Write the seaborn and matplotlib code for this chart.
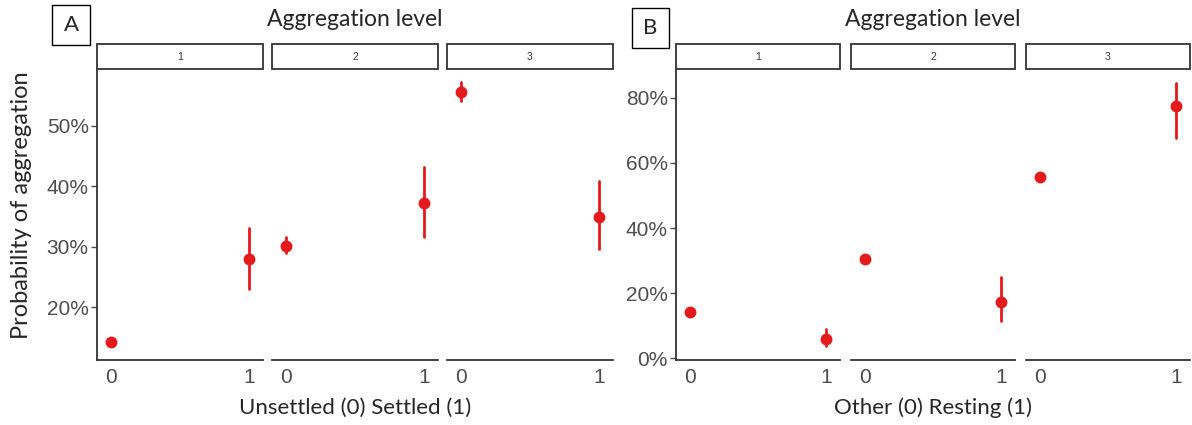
import numpy as np
import pandas as pd
import matplotlib
matplotlib.use("Agg")
import matplotlib.pyplot as plt
import seaborn as sns
from matplotlib.patches import Rectangle
from matplotlib.ticker import PercentFormatter

# ---- data (probabilities) ----
levels = [1, 2, 3]
x_vals = [0, 1]

# Panel A: Unsettled (0) / Settled (1)
a_est = [0.142, 0.279, 0.302, 0.372, 0.556, 0.350]
a_lo = [0.138, 0.231, 0.289, 0.316, 0.541, 0.296]
a_hi = [0.146, 0.331, 0.316, 0.431, 0.572, 0.408]

# Panel B: Other (0) / Resting (1)
b_est = [0.142, 0.058, 0.304, 0.172, 0.558, 0.775]
b_lo = [0.138, 0.039, 0.300, 0.115, 0.553, 0.675]
b_hi = [0.146, 0.090, 0.308, 0.250, 0.563, 0.846]

red = "#E41A1C"
grey = "#4D4D4D"
label_font = ["Lato", "DejaVu Sans"]


def long_table(est, lo, hi):
    rows = []
    i = 0
    for lev in levels:
        for x in x_vals:
            for v in (lo[i], est[i], hi[i]):
                rows.append({"level": lev, "x": x, "p": v})
            i += 1
    return pd.DataFrame(rows)


df_a = long_table(a_est, a_lo, a_hi)
df_b = long_table(b_est, b_lo, b_hi)

sns.set_style("white")
plt.rcParams["font.family"] = ["Liberation Sans", "DejaVu Sans"]

fig = plt.figure(figsize=(11.92, 4.25), dpi=100)
W, H = 1192, 425


def panel(df, lefts, width, ylim, yticks, xlabel, letter, letter_box, ylabel=None):
    axes = []
    for k, lev in enumerate(levels):
        ax = fig.add_axes([lefts[k] / W, (H - 360) / H, width / W, 290 / H])
        sub = df[df["level"] == lev]
        # median of (lo, est, hi) is the estimate; 100% interval spans lo..hi
        sns.pointplot(data=sub, x="x", y="p", native_scale=True,
                      estimator=np.median, errorbar=("pi", 100),
                      color=red, linestyle="none", markersize=6.5,
                      err_kws={"linewidth": 2.0}, ax=ax)
        ax.set_xlim(-0.1, 1.1)
        ax.set_ylim(*ylim)
        ax.set_xticks(x_vals)
        ax.set_xticklabels(["0", "1"])
        ax.set_xlabel("")
        ax.set_ylabel("")
        for s in ["top", "right"]:
            ax.spines[s].set_visible(False)
        ax.spines["bottom"].set_color("#333333")
        ax.spines["bottom"].set_linewidth(1.3)
        ax.tick_params(axis="x", colors=grey, labelsize=15, length=4,
                       width=1, pad=2)
        if k == 0:
            ax.set_yticks(yticks)
            ax.yaxis.set_major_formatter(PercentFormatter(1.0, decimals=0))
            ax.tick_params(axis="y", colors=grey, labelsize=15, length=4,
                           width=1, pad=2, left=True)
            ax.spines["left"].set_color("#333333")
            ax.spines["left"].set_linewidth(1.3)
        else:
            ax.spines["left"].set_visible(False)
            ax.set_yticks([])
        ax.patch.set_alpha(0)
        # strip header
        fig.patches.append(Rectangle((lefts[k] / W, (H - 69) / H), width / W, 25 / H,
                                     transform=fig.transFigure, facecolor="white",
                                     edgecolor="#333333", linewidth=1.3))
        fig.text((lefts[k] + width / 2) / W, (H - 57) / H, str(lev),
                 ha="center", va="center", fontsize=7.5, color="#333333")
        axes.append(ax)
    center = (lefts[0] + lefts[-1] + width) / 2
    fig.text(center / W, (H - 19) / H, "Aggregation level", ha="center",
             va="center", fontsize=16.5, family=label_font)
    fig.text(center / W, (H - 408) / H, xlabel, ha="center", va="center",
             fontsize=16, family=label_font)
    x0, y0, x1, y1 = letter_box
    fig.patches.append(Rectangle((x0 / W, (H - y1) / H), (x1 - x0) / W, (y1 - y0) / H,
                                 transform=fig.transFigure, facecolor="white",
                                 edgecolor="black", linewidth=1.0))
    fig.text((x0 + x1) / 2 / W, (H - (y0 + y1) / 2) / H, letter, ha="center",
             va="center", fontsize=16, family=label_font)
    if ylabel:
        fig.text(22 / W, (H - 205) / H, ylabel, rotation=90, ha="center",
                 va="center", fontsize=17, family=label_font)
    return axes


panel(df_a, [97, 272, 447], 166, (0.113, 0.592), [0.2, 0.3, 0.4, 0.5],
      "Unsettled (0) Settled (1)", "A", (52, 5, 90, 45),
      ylabel="Probability of aggregation")
panel(df_b, [676, 851, 1026], 164, (-0.005, 0.885), [0.0, 0.2, 0.4, 0.6, 0.8],
      "Other (0) Resting (1)", "B", (632, 8, 669, 48))

fig.savefig("out.png", dpi=100)
